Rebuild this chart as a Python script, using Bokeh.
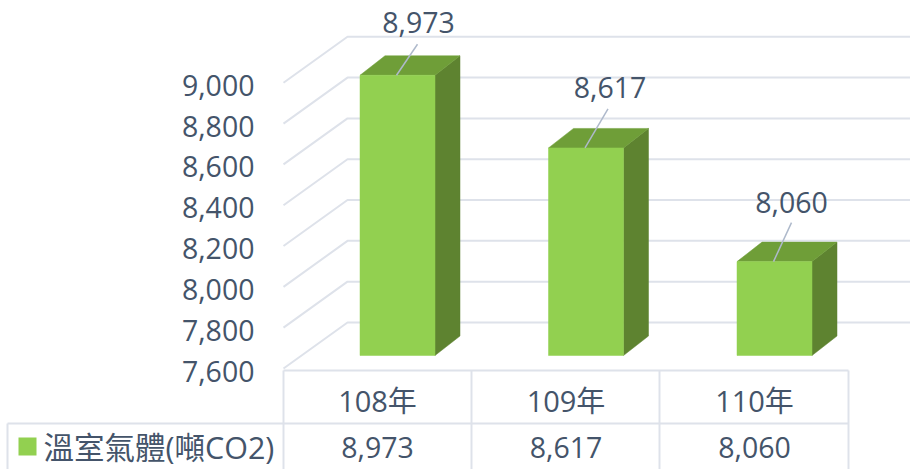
from bokeh.plotting import figure
from bokeh.models import Range1d
from bokeh.core.properties import value
from bokeh.embed import file_html
from bokeh.resources import INLINE

# ---- data ----
categories = ["108年", "109年", "110年"]
series_name = "溫室氣體(噸CO2)"
co2_values = [8973, 8617, 8060]
axis_ticks = [7600, 7800, 8000, 8200, 8400, 8600, 8800, 9000]

# ---- layout (page pixels) ----
W, H = 910, 469
PAGE_L, PAGE_T = 1, 0
BASE_V = 7600
BASE_PY = 355.0            # page y of a bar's front bottom edge
PX_PER_UNIT = 0.2041
STEP = 188.5               # px between categories
X0 = 398.0                 # px of first bar centre
HALF = 37.5
DEPTH_X, DEPTH_Y = 25.0, 19.5

TXT = "#44546A"
GRID = "#DEE2EA"
FRONT, TOP, SIDE = "#92D050", "#6F9E38", "#5E8330"
LEADER = "#AEB9CB"
FONT = value("Open Sans")
CJK = "Open Sans, Noto Sans CJK TC"
NUM_SIZE = "28.5px"


def X(px):
    return (px - X0) / STEP


def Y(v, down=0.0):
    """value v on the bar plane, moved `down` page pixels"""
    return v - down / PX_PER_UNIT


p = figure(width=W, height=H, output_backend="svg", toolbar_location=None,
           x_range=Range1d(X(PAGE_L), X(PAGE_L + W)),
           y_range=Range1d(BASE_V + (BASE_PY - (PAGE_T + H)) / PX_PER_UNIT,
                           BASE_V + (BASE_PY - PAGE_T) / PX_PER_UNIT),
           min_border=0, outline_line_color=None)
p.grid.visible = False
p.xaxis.visible = False
p.yaxis.visible = False

# walls
WALL_FRONT_DOWN, WALL_BACK_DOWN = 13.0, -33.0
for t in axis_ticks:
    p.line([X(284), X(348), X(912)],
           [Y(t, WALL_FRONT_DOWN), Y(t, WALL_BACK_DOWN), Y(t, WALL_BACK_DOWN)],
           line_color=GRID, line_width=2)

# bars
for i, v in enumerate(co2_values):
    cx = i
    l, r = cx - HALF / STEP, cx + HALF / STEP
    dx = DEPTH_X / STEP
    dv = DEPTH_Y / PX_PER_UNIT
    p.patch([r, r + dx, r + dx, r], [BASE_V, BASE_V + dv, v + dv, v],
            fill_color=SIDE, line_color=SIDE, line_width=0.5)
    p.patch([l, l + dx, r + dx, r], [v, v + dv, v + dv, v],
            fill_color=TOP, line_color=TOP, line_width=0.5)
    p.quad(left=l, right=r, bottom=BASE_V, top=v,
           fill_color=FRONT, line_color=FRONT, line_width=0.5)

# leaders + value labels
label_shift = [(21, -31, 21, -53), (23, -39, 24, -60), (18, -39, 17, -59)]
for i, v in enumerate(co2_values):
    dx, dy, tx, ty = label_shift[i]
    p.line([i - 1 / STEP, i + (dx - 1) / STEP], [v, Y(v, dy)],
           line_color=LEADER, line_width=1.5)
    p.text([i + tx / STEP], [Y(v, ty)], text=[f"{v:,}"], text_font=FONT,
           text_font_size=NUM_SIZE, text_color=TXT, text_align="center",
           text_baseline="middle")

# axis labels
for t in axis_ticks:
    p.text([X(255)], [Y(t, 15.5)], text=[f"{t:,}"], text_font=FONT,
           text_font_size=NUM_SIZE, text_color=TXT, text_align="right",
           text_baseline="middle")


def py(page_y):
    return BASE_V + (BASE_PY - page_y) / PX_PER_UNIT


# data table
for seg in [((284, 370), (849, 370)), ((8, 423), (849, 423))]:
    p.line([X(seg[0][0]), X(seg[1][0])], [py(seg[0][1]), py(seg[1][1])],
           line_color=GRID, line_width=2)
for xp, top in [(8, 423), (284, 370), (472, 370), (660, 370), (849, 370)]:
    p.line([X(xp), X(xp)], [py(top), py(475)], line_color=GRID, line_width=2)

p.quad(left=X(19), right=X(37), top=py(437), bottom=py(455),
       fill_color=FRONT, line_color=None)
p.text([X(44)], [py(446)], text=[series_name], text_font=value(CJK),
       text_font_size="30.5px", text_color=TXT, text_align="left",
       text_baseline="middle")
for i, (c, v) in enumerate(zip(categories, co2_values)):
    xc = i - 20 / STEP
    p.text([xc], [py(400)], text=[c], text_font=value(CJK),
           text_font_size="29px", text_color=TXT, text_align="center",
           text_baseline="middle")
    p.text([xc], [py(447)], text=[f"{v:,}"], text_font=FONT,
           text_font_size=NUM_SIZE, text_color=TXT, text_align="center",
           text_baseline="middle")

open("out.html", "w").write(file_html(p, INLINE))
